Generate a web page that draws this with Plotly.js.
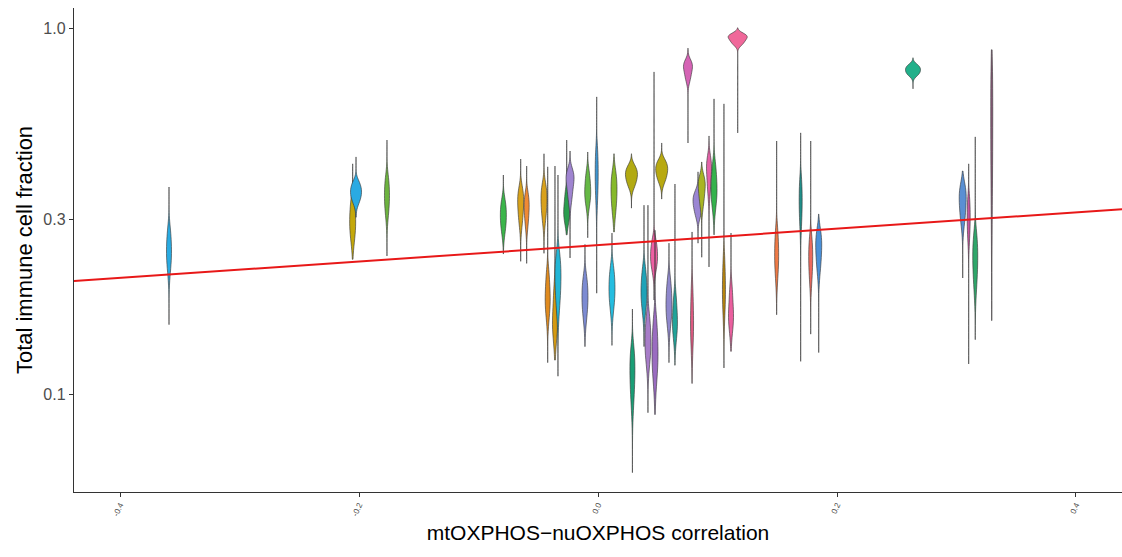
<!DOCTYPE html>
<html>
<head>
<meta charset="utf-8">
<script src="https://cdn.plot.ly/plotly-3.0.1.min.js"></script>
<style>html,body{margin:0;padding:0;background:#fff;}#chart{width:1122px;height:557px;}</style>
</head>
<body>
<div id="chart"></div>
<script>
// ---- DATA ----
// mtOXPHOS-nuOXPHOS correlation of each group (x position of each violin)
const correlation = [
  -0.359, -0.2053, -0.2025, -0.1766, -0.0792, -0.0647, -0.0597, -0.0452, -0.0421, -0.0360,
  -0.0335, -0.0262, -0.0234, -0.0109, -0.0086, -0.0011, 0.0117, 0.0134, 0.0280, 0.0288,
  0.0385, 0.0418, 0.0469, 0.0477, 0.0533, 0.0594, 0.0644, 0.0753, 0.0787, 0.0837,
  0.0868, 0.0929, 0.0971, 0.1054, 0.1113, 0.1169, 0.1495, 0.1696, 0.1780, 0.1847,
  0.2636, 0.3052, 0.3102, 0.3157, 0.3295
];
// Lowest and highest total immune cell fraction in each group
const groupMin = [
  0.155, 0.234, 0.305, 0.239, 0.242, 0.231, 0.228, 0.243, 0.122, 0.124,
  0.112, 0.273, 0.236, 0.135, 0.268, 0.189, 0.136, 0.278, 0.323, 0.061,
  0.135, 0.089, 0.181, 0.088, 0.342, 0.122, 0.120, 0.487, 0.107, 0.259,
  0.237, 0.223, 0.273, 0.118, 0.131, 0.519, 0.165, 0.123, 0.146, 0.130,
  0.685, 0.208, 0.121, 0.141, 0.159
];
const groupMax = [
  0.369, 0.427, 0.446, 0.496, 0.398, 0.440, 0.421, 0.455, 0.419, 0.421,
  0.398, 0.496, 0.463, 0.257, 0.460, 0.651, 0.276, 0.455, 0.455, 0.171,
  0.329, 0.329, 0.762, 0.281, 0.487, 0.259, 0.376, 0.885, 0.278, 0.406,
  0.432, 0.509, 0.643, 0.623, 0.276, 1.006, 0.493, 0.519, 0.493, 0.311,
  0.833, 0.408, 0.427, 0.506, 0.876
];
// Core values of each group (where most samples sit)
const coreValues = [
  [0.218, 0.230, 0.240, 0.248, 0.259, 0.270, 0.285],
  [0.264, 0.278, 0.289, 0.300, 0.313, 0.326, 0.344],
  [0.334, 0.344, 0.351, 0.358, 0.365, 0.372, 0.382],
  [0.309, 0.326, 0.338, 0.351, 0.364, 0.377, 0.395],
  [0.277, 0.290, 0.299, 0.309, 0.319, 0.328, 0.341],
  [0.292, 0.309, 0.321, 0.334, 0.344, 0.353, 0.366],
  [0.288, 0.303, 0.314, 0.325, 0.334, 0.342, 0.354],
  [0.299, 0.315, 0.328, 0.340, 0.351, 0.361, 0.375],
  [0.164, 0.172, 0.179, 0.185, 0.195, 0.204, 0.217],
  [0.143, 0.150, 0.155, 0.160, 0.171, 0.182, 0.196],
  [0.173, 0.187, 0.198, 0.209, 0.219, 0.229, 0.242],
  [0.296, 0.305, 0.312, 0.319, 0.331, 0.344, 0.360],
  [0.339, 0.358, 0.372, 0.386, 0.393, 0.400, 0.409],
  [0.161, 0.171, 0.178, 0.185, 0.193, 0.200, 0.210],
  [0.330, 0.343, 0.352, 0.362, 0.376, 0.389, 0.407],
  [0.340, 0.365, 0.385, 0.403, 0.425, 0.445, 0.470],
  [0.171, 0.181, 0.188, 0.196, 0.204, 0.212, 0.223],
  [0.313, 0.333, 0.347, 0.362, 0.376, 0.389, 0.407],
  [0.370, 0.381, 0.390, 0.398, 0.405, 0.412, 0.422],
  [0.094, 0.103, 0.109, 0.116, 0.121, 0.127, 0.134],
  [0.170, 0.179, 0.186, 0.193, 0.201, 0.210, 0.221],
  [0.122, 0.130, 0.135, 0.141, 0.148, 0.155, 0.165],
  [0.219, 0.227, 0.234, 0.240, 0.248, 0.255, 0.265],
  [0.110, 0.119, 0.125, 0.132, 0.141, 0.150, 0.162],
  [0.381, 0.393, 0.402, 0.411, 0.419, 0.426, 0.436],
  [0.156, 0.165, 0.171, 0.178, 0.187, 0.195, 0.207],
  [0.143, 0.150, 0.155, 0.160, 0.168, 0.176, 0.187],
  [0.721, 0.745, 0.764, 0.782, 0.793, 0.803, 0.817],
  [0.136, 0.146, 0.153, 0.160, 0.172, 0.183, 0.198],
  [0.308, 0.319, 0.328, 0.336, 0.343, 0.349, 0.358],
  [0.327, 0.344, 0.356, 0.369, 0.377, 0.384, 0.394],
  [0.355, 0.377, 0.394, 0.411, 0.421, 0.431, 0.444],
  [0.327, 0.344, 0.356, 0.369, 0.387, 0.404, 0.428],
  [0.166, 0.178, 0.187, 0.196, 0.208, 0.220, 0.236],
  [0.151, 0.157, 0.162, 0.167, 0.176, 0.186, 0.198],
  [0.905, 0.920, 0.933, 0.945, 0.953, 0.960, 0.968],
  [0.209, 0.223, 0.233, 0.243, 0.255, 0.267, 0.283],
  [0.290, 0.310, 0.325, 0.340, 0.355, 0.370, 0.390],
  [0.203, 0.217, 0.227, 0.237, 0.247, 0.256, 0.269],
  [0.217, 0.231, 0.242, 0.253, 0.261, 0.270, 0.281],
  [0.745, 0.755, 0.763, 0.772, 0.780, 0.788, 0.798],
  [0.294, 0.312, 0.326, 0.340, 0.351, 0.361, 0.375],
  [0.265, 0.281, 0.293, 0.305, 0.318, 0.330, 0.345],
  [0.196, 0.212, 0.225, 0.237, 0.248, 0.260, 0.275],
  [0.350, 0.420, 0.500, 0.580, 0.650, 0.720, 0.800]
];
// Fitted trend line (log10 scale), read at the two ends of the x range
const fitX = [-0.4385, 0.4385];
const fitY = [0.204, 0.321];
// Axis ticks
const xTickVals = [-0.4, -0.2, 0.0, 0.2, 0.4];
const xTickText = ['-0.4', '-0.2', '0.0', '0.2', '0.4'];
const yTickVals = [0.1, 0.3, 1.0];
const yTickText = ['0.1', '0.3', '1.0'];

// ---- STYLE ----
const fillColors = [
  '#29abe2', '#c4a80a', '#2aaae2', '#6db33f', '#3bb54a', '#d7a21b', '#ef8a35', '#d9a11c', '#e08b1f', '#d49a12',
  '#22b6d6', '#2a9d4e', '#9f84d0', '#7c8bd2', '#66b845', '#3d95d2', '#25bde0', '#86b92a', '#b2aa12', '#1a9e76',
  '#1fa3b8', '#a77cc8', '#ee5fa3', '#9a6cc0', '#b8a910', '#8f88cc', '#22a399', '#d563b5', '#e05a82', '#9b86d3',
  '#a8b523', '#e462a8', '#34b24c', '#b9860d', '#ea5f9e', '#f0689a', '#ef7a45', '#1f8f8a', '#ee6a5e', '#4a90d9',
  '#22b08a', '#5a8fd3', '#c8559f', '#2fa66a', '#8b5a7a'
];
const widthPx = [
  5, 6, 11, 5, 6, 6, 5, 6, 5, 5,
  6, 6, 8, 6, 6, 3, 6, 6, 12, 5,
  6, 6, 7, 6, 12, 6, 5, 9, 3, 10,
  7, 5, 6, 3, 5, 19, 4, 3, 4, 6,
  15, 7, 3, 5, 2
];
const xRange = [-0.4385, 0.4385];
const plotWidthPx = 1048;
const pxToData = (xRange[1] - xRange[0]) / plotWidthPx;

const traces = correlation.map((cx, i) => ({
  type: 'violin',
  x0: cx,
  y: coreValues[i],
  width: widthPx[i] * pxToData,
  spanmode: 'manual',
  span: [groupMin[i], groupMax[i]],
  scalemode: 'width',
  points: false,
  box: {visible: false},
  meanline: {visible: false},
  fillcolor: fillColors[i],
  line: {color: 'rgba(55,55,55,0.62)', width: 1},
  showlegend: false,
  hoverinfo: 'skip'
}));

traces.push({
  type: 'scatter',
  mode: 'lines',
  x: fitX,
  y: fitY,
  line: {color: '#e81818', width: 2},
  showlegend: false,
  hoverinfo: 'skip'
});

const font = 'Liberation Sans, Arial, Helvetica, sans-serif';
const layout = {
  width: 1122,
  height: 557,
  margin: {l: 74, r: 0, t: 8, b: 65},
  paper_bgcolor: '#ffffff',
  plot_bgcolor: '#ffffff',
  violinmode: 'overlay',
  violingap: 0,
  showlegend: false,
  font: {family: font, color: '#000'},
  xaxis: {
    type: 'linear',
    range: xRange,
    tickvals: xTickVals,
    ticktext: xTickText,
    tickangle: -65,
    tickfont: {family: font, size: 8, color: '#4d4d4d'},
    ticks: 'outside',
    ticklen: 4,
    tickwidth: 1,
    tickcolor: '#333',
    showline: true,
    linecolor: '#333',
    linewidth: 1.2,
    showgrid: false,
    zeroline: false,
    title: {text: 'mtOXPHOS\u2212nuOXPHOS correlation', font: {family: font, size: 21, color: '#000'}, standoff: 8}
  },
  yaxis: {
    type: 'log',
    range: [Math.log10(0.054), Math.log10(1.14)],
    tickvals: yTickVals,
    ticktext: yTickText,
    tickfont: {family: font, size: 16, color: '#4d4d4d'},
    ticks: 'outside',
    ticklen: 4,
    tickwidth: 1,
    tickcolor: '#333',
    showline: true,
    linecolor: '#333',
    linewidth: 1.2,
    showgrid: false,
    zeroline: false,
    title: {text: 'Total immune cell fraction', font: {family: font, size: 22, color: '#000'}, standoff: 4}
  }
};

Plotly.newPlot('chart', traces, layout, {displayModeBar: false, staticPlot: true});
</script>
</body>
</html>
